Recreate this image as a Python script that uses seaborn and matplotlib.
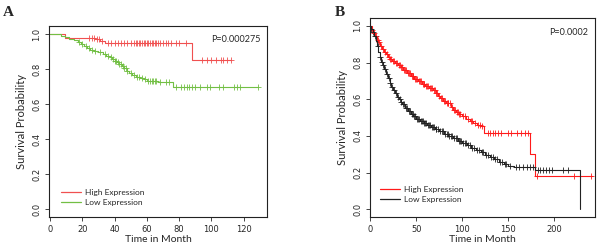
import numpy as np
import matplotlib
matplotlib.use("Agg")
import matplotlib.pyplot as plt
from matplotlib.lines import Line2D
import seaborn as sns

# ---- Panel A: step times / survival, censor times ----
a_high_t = [0, 9.5, 28, 31, 34, 88, 112]
a_high_s = [1.0, 0.98, 0.972, 0.962, 0.95, 0.855, 0.855]
a_high_cens = [24, 26, 27.5, 29, 30.5, 32, 36, 38, 40, 42, 44, 46, 48, 50, 52, 53, 54,
               55, 56, 57, 58, 59, 60, 61, 62, 63, 64, 65, 66, 67, 68, 70, 72, 73, 75,
               78, 80, 84, 94, 97, 100, 103, 106, 107, 110, 112]

a_low_t = [0, 7, 9, 12, 15, 17.5, 19.5, 21, 23, 25, 27, 30, 33, 35, 37, 38.5, 40, 41.5,
           43, 44.5, 46, 47.5, 49, 51, 53, 56, 58, 60, 63, 67, 76, 129]
a_low_s = [1.0, 0.99, 0.983, 0.972, 0.965, 0.955, 0.945, 0.935, 0.922, 0.912, 0.902,
           0.896, 0.889, 0.878, 0.868, 0.857, 0.849, 0.84, 0.83, 0.82, 0.806, 0.792,
           0.778, 0.768, 0.758, 0.748, 0.742, 0.735, 0.733, 0.728, 0.697, 0.697]
a_low_cens = [18, 20, 22, 24, 26, 28, 31, 34, 36, 38, 39, 40, 41, 42, 43, 44, 45, 46, 47,
              48, 50, 52, 54, 55, 57, 59, 61, 62, 63, 64, 65, 66, 68, 72, 74, 78, 81, 83,
              85, 86, 88, 90, 93, 97, 99, 105, 107, 114, 116, 118, 129]

# ---- Panel B ----
b_high_t = [0, 1.5, 3, 5, 7, 9, 11, 13, 15, 17, 19, 21, 24, 27, 30, 33, 36, 40, 44, 48,
            52, 56, 60, 64, 68, 71, 74, 76, 79, 82, 86, 88, 90, 93, 96, 100, 104, 108,
            112, 116, 120, 124, 174, 179, 241]
b_high_s = [1.0, 0.98, 0.96, 0.945, 0.925, 0.91, 0.89, 0.875, 0.86, 0.845, 0.83, 0.818,
            0.808, 0.798, 0.787, 0.776, 0.762, 0.745, 0.728, 0.712, 0.698, 0.685, 0.672,
            0.66, 0.648, 0.636, 0.62, 0.605, 0.59, 0.582, 0.578, 0.56, 0.54, 0.53, 0.52,
            0.51, 0.495, 0.48, 0.468, 0.462, 0.455, 0.415, 0.30, 0.18, 0.18]
b_high_cens = [2, 4, 6, 8, 10, 12, 14, 16, 18, 20, 22, 23, 25, 26, 28, 29, 31, 32, 34, 35,
               37, 38, 39, 41, 42, 43, 45, 46, 47, 49, 50, 51, 53, 54, 55, 57, 58, 59,
               61, 62, 63, 65, 66, 67, 69, 70, 72, 73, 75, 77, 78, 80, 81, 83, 84, 85,
               87, 89, 91, 92, 94, 95, 97, 98, 101, 103, 106, 109, 111, 114, 117, 119,
               122, 128, 130, 133, 136, 139, 142, 150, 153, 160, 164, 168, 172, 181, 222, 240]

b_low_t = [0, 1, 2.5, 4, 6, 7.5, 9, 10.5, 12, 13.5, 15, 17, 19, 21, 23, 25, 27, 29, 31,
           33, 35, 38, 41, 44, 47, 50, 54, 58, 62, 66, 70, 75, 80, 85, 90, 95, 100, 105,
           110, 115, 120, 125, 130, 135, 140, 145, 150, 156, 179, 228]
b_low_s = [1.0, 0.985, 0.965, 0.945, 0.92, 0.89, 0.86, 0.83, 0.805, 0.785, 0.765, 0.74,
           0.715, 0.69, 0.668, 0.65, 0.632, 0.615, 0.6, 0.585, 0.572, 0.555, 0.538, 0.522,
           0.508, 0.495, 0.48, 0.468, 0.458, 0.448, 0.438, 0.425, 0.41, 0.398, 0.386,
           0.374, 0.362, 0.35, 0.336, 0.324, 0.31, 0.298, 0.286, 0.272, 0.258, 0.246,
           0.238, 0.233, 0.213, 0.0]
b_low_cens = [1, 3, 5, 8, 11, 13, 14, 16, 18, 20, 22, 24, 26, 28, 30, 32, 34, 36, 37, 39,
              40, 42, 43, 45, 46, 48, 49, 51, 52, 53, 55, 56, 57, 59, 60, 61, 63, 64, 65,
              67, 68, 69, 71, 72, 74, 76, 78, 79, 81, 83, 84, 86, 88, 89, 91, 93, 94, 96,
              98, 99, 101, 103, 104, 106, 108, 111, 113, 116, 118, 121, 123, 126, 128,
              131, 133, 136, 138, 141, 143, 146, 148, 152, 158, 162, 166, 170, 174, 177,
              182, 185, 188, 191, 194, 198, 210, 215]

labels = ["High Expression", "Low Expression"]


def surv_at(times, surv, t):
    idx = np.searchsorted(times, t, side="right") - 1
    return np.asarray(surv)[idx]


def km_panel(ax, curves, xlim, ylim, xticks, yticks, pval, legend_anchor):
    for t, s, cens, col, lw in curves:
        sns.lineplot(x=t, y=s, ax=ax, color=col, linewidth=lw, drawstyle="steps-post",
                     estimator=None, sort=False)
        sns.scatterplot(x=cens, y=surv_at(t, s, cens), ax=ax, marker="+", s=24,
                        color=col, linewidth=0.6)
    ax.set_xlim(*xlim)
    ax.set_ylim(*ylim)
    ax.set_xticks(xticks)
    ax.set_yticks(yticks)
    ax.set_yticklabels([f"{v:.1f}" for v in yticks], rotation=90, va="center")
    ax.tick_params(labelsize=6, length=3, width=0.6, direction="out", pad=2.5)
    for sp in ax.spines.values():
        sp.set_linewidth(0.8)
        sp.set_color("#222222")
    ax.set_xlabel("Time in Month", fontsize=7.5, family="Lato", labelpad=1)
    ax.set_ylabel("Survival Probability", fontsize=8, family="Lato", labelpad=4)
    ax.text(0.97, 0.93, pval, transform=ax.transAxes, ha="right", va="center",
            fontsize=6.5, family="Lato")
    handles = [Line2D([0], [0], color=c[3], lw=0.9) for c in curves]
    ax.legend(handles, labels, loc="lower left", bbox_to_anchor=legend_anchor,
              frameon=False, prop={"family": "Lato", "size": 6}, handlelength=2.4,
              handletextpad=0.5, labelspacing=0.35, borderaxespad=0)


sns.set_style("ticks")
fig = plt.figure(figsize=(6, 2.52), dpi=100)
ax_a = fig.add_axes([0.082, 0.139, 0.363, 0.758])
ax_b = fig.add_axes([0.617, 0.139, 0.375, 0.788])

km_panel(ax_a,
         [(a_high_t, a_high_s, a_high_cens, "#f05050", 0.8),
          (a_low_t, a_low_s, a_low_cens, "#72bf44", 0.8)],
         (-0.5, 134.5), (-0.044, 1.047), [0, 20, 40, 60, 80, 100, 120],
         [0.0, 0.2, 0.4, 0.6, 0.8, 1.0], "P=0.000275", (0.04, 0.04))

km_panel(ax_b,
         [(b_high_t, b_high_s, b_high_cens, "#ff1a1a", 0.8),
          (b_low_t, b_low_s, b_low_cens, "#222222", 0.8)],
         (0, 244.5), (-0.042, 1.041), [0, 50, 100, 150, 200],
         [0.0, 0.2, 0.4, 0.6, 0.8, 1.0], "P=0.0002", (0.03, 0.055))

fig.text(0.005, 0.975, "A", fontsize=11, fontweight="bold", family="Liberation Serif",
         va="top")
fig.text(0.558, 0.975, "B", fontsize=11, fontweight="bold", family="Liberation Serif",
         va="top")

fig.savefig("out.png", dpi=100)
